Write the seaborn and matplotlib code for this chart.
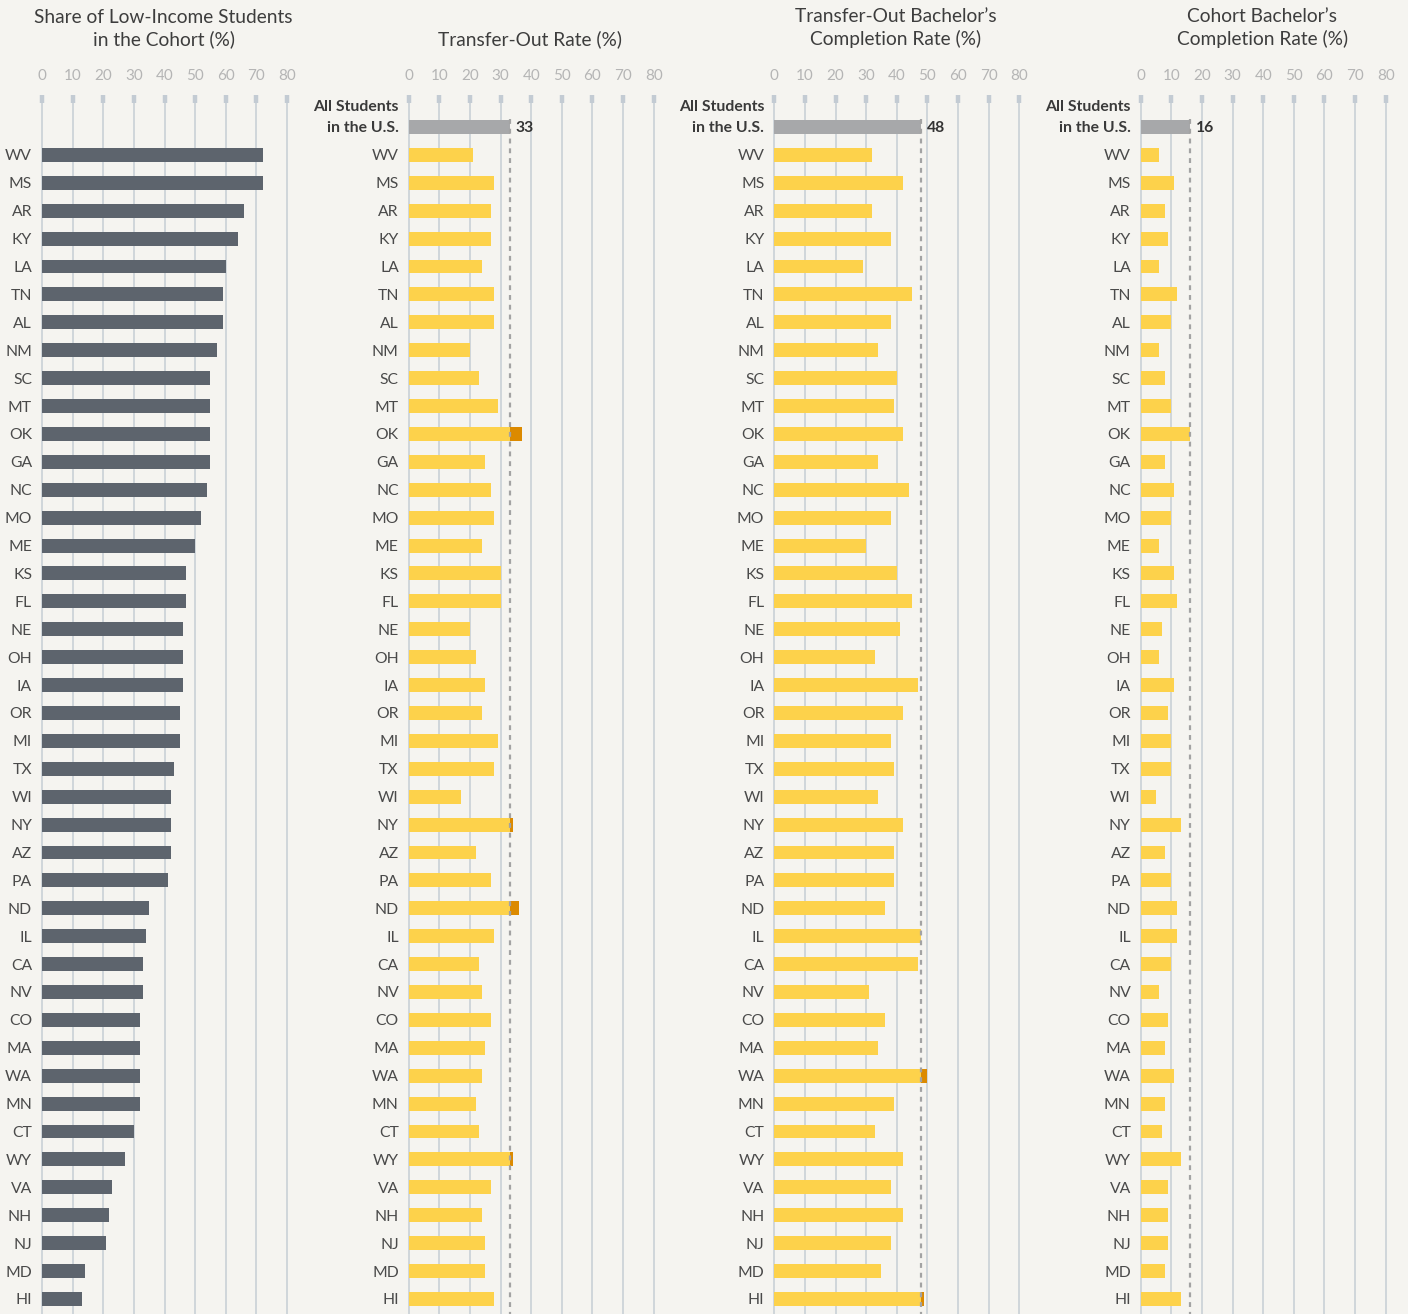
import numpy as np
import pandas as pd
import matplotlib
matplotlib.use("Agg")
import matplotlib.pyplot as plt
import seaborn as sns

# data
states = ["WV", "MS", "AR", "KY", "LA", "TN", "AL", "NM", "SC", "MT", "OK", "GA", "NC", "MO",
          "ME", "KS", "FL", "NE", "OH", "IA", "OR", "MI", "TX", "WI", "NY", "AZ", "PA", "ND",
          "IL", "CA", "NV", "CO", "MA", "WA", "MN", "CT", "WY", "VA", "NH", "NJ", "MD", "HI"]
low_income = [72, 72, 66, 64, 60, 59, 59, 57, 55, 55, 55, 55, 54, 52,
              50, 47, 47, 46, 46, 46, 45, 45, 43, 42, 42, 42, 41, 35,
              34, 33, 33, 32, 32, 32, 32, 30, 27, 23, 22, 21, 14, 13]
transfer_out = [21, 28, 27, 27, 24, 28, 28, 20, 23, 29, 37, 25, 27, 28,
                24, 30, 30, 20, 22, 25, 24, 29, 28, 17, 34, 22, 27, 36,
                28, 23, 24, 27, 25, 24, 22, 23, 34, 27, 24, 25, 25, 28]
transfer_bach = [32, 42, 32, 38, 29, 45, 38, 34, 40, 39, 42, 34, 44, 38,
                 30, 40, 45, 41, 33, 47, 42, 38, 39, 34, 42, 39, 39, 36,
                 48, 47, 31, 36, 34, 50, 39, 33, 42, 38, 42, 38, 35, 49]
cohort_bach = [6, 11, 8, 9, 6, 12, 10, 6, 8, 10, 16, 8, 11, 10,
               6, 11, 12, 7, 6, 11, 9, 10, 10, 5, 13, 8, 10, 12,
               12, 10, 6, 9, 8, 11, 8, 7, 13, 9, 9, 9, 8, 13]
national = [33, 48, 16]
titles = ["Share of Low-Income Students\nin the Cohort (%)",
          "Transfer-Out Rate (%)",
          "Transfer-Out Bachelor\u2019s\nCompletion Rate (%)",
          "Cohort Bachelor\u2019s\nCompletion Rate (%)"]
ticks = [0, 10, 20, 30, 40, 50, 60, 70, 80]

BG = "#f5f4f0"
DARK = "#5d646d"
YELLOW = "#fdd24b"
ORANGE = "#dc8a00"
GREY = "#a7a8aa"

sns.set_theme(style="white")
plt.rcParams["font.family"] = ["Lato", "DejaVu Sans"]

W, H = 1408, 1314
PX = 3.0625  # pixels per percent
fig = plt.figure(figsize=(W / 100, H / 100), dpi=100, facecolor=BG)

ALL = "All"
order = [ALL] + states
zero_px = [42, 408.7, 774.3, 1140.7]


def setup(ax, title, left):
    ax.set_facecolor(BG)
    for s in ax.spines.values():
        s.set_visible(False)
    ax.set_xlim(-0.3, 80.3)
    ax.set_ylim(42.54, -0.86)
    ax.xaxis.tick_top()
    ax.set_xticks(ticks)
    ax.tick_params(axis="x", top=True, bottom=False, length=5.8, width=3.2,
                   color="#c3cbd3", pad=8.5, labelsize=11, labelcolor="#b5b5b5")
    ax.tick_params(axis="y", left=False, length=0, pad=6.5, labelsize=11.3,
                   labelcolor="#4a4a4a")
    ax.grid(axis="x", color="#cdd3d8", lw=1.3)
    ax.grid(axis="y", visible=False)
    ax.set_axisbelow(True)
    ax.set_xlabel("")
    ax.set_ylabel("")
    cx = (left + 40 * PX) / W
    fig.text(cx, 1 - 48 / H, title, ha="center", va="bottom", fontsize=13.8,
             color="#3d3d3d", linespacing=1.3)


axes = []
for i, z in enumerate(zero_px):
    left = z - 0.3 * PX
    ax = fig.add_axes([left / W, 0, 80.6 * PX / W, (H - 103) / H])
    axes.append(ax)

# panel 1
df1 = pd.DataFrame({"state": states, "value": low_income})
sns.barplot(data=df1, x="value", y="state", order=order, orient="h",
            color=DARK, width=0.5, saturation=1, linewidth=0, ax=axes[0])
setup(axes[0], titles[0], zero_px[0] - 0.3 * PX)
axes[0].set_yticks(range(len(order)))
axes[0].set_yticklabels([""] + states)

# panels 2-4
for ax, vals, nat, title, z in zip(axes[1:], [transfer_out, transfer_bach, cohort_bach],
                                   national, titles[1:], zero_px[1:]):
    df = pd.DataFrame({"state": [ALL] + states, "value": [nat] + vals})
    df["base"] = np.minimum(df["value"], nat)
    pal_over = {s: ORANGE for s in states}
    pal_over[ALL] = GREY
    pal_base = {s: YELLOW for s in states}
    pal_base[ALL] = GREY
    sns.barplot(data=df, x="value", y="state", hue="state", order=order,
                palette=pal_over, orient="h", width=0.5, saturation=1,
                linewidth=0, legend=False, ax=ax)
    sns.barplot(data=df, x="base", y="state", hue="state", order=order,
                palette=pal_base, orient="h", width=0.5, saturation=1,
                linewidth=0, legend=False, ax=ax)
    setup(ax, title, z - 0.3 * PX)
    ax.set_yticks(range(len(order)))
    ax.set_yticklabels(["in the U.S."] + states)
    lab = ax.get_yticklabels()[0]
    lab.set_fontweight("bold")
    lab.set_color("#3a3a3a")
    ax.text(-0.036, -0.77, "All Students", transform=ax.get_yaxis_transform(),
            ha="right", va="center_baseline", fontsize=11.3, fontweight="bold",
            color="#3a3a3a")
    ax.vlines(nat, -0.27, 42.54, colors="#a3a3a3", linestyles=(0, (2.2, 2.2)),
              lw=1.6, zorder=5)
    ax.text(nat + 1.9, 0, str(nat), ha="left", va="center_baseline", fontsize=11.3,
            fontweight="bold", color="#333333")

fig.savefig("out.png", dpi=100, facecolor=BG)
